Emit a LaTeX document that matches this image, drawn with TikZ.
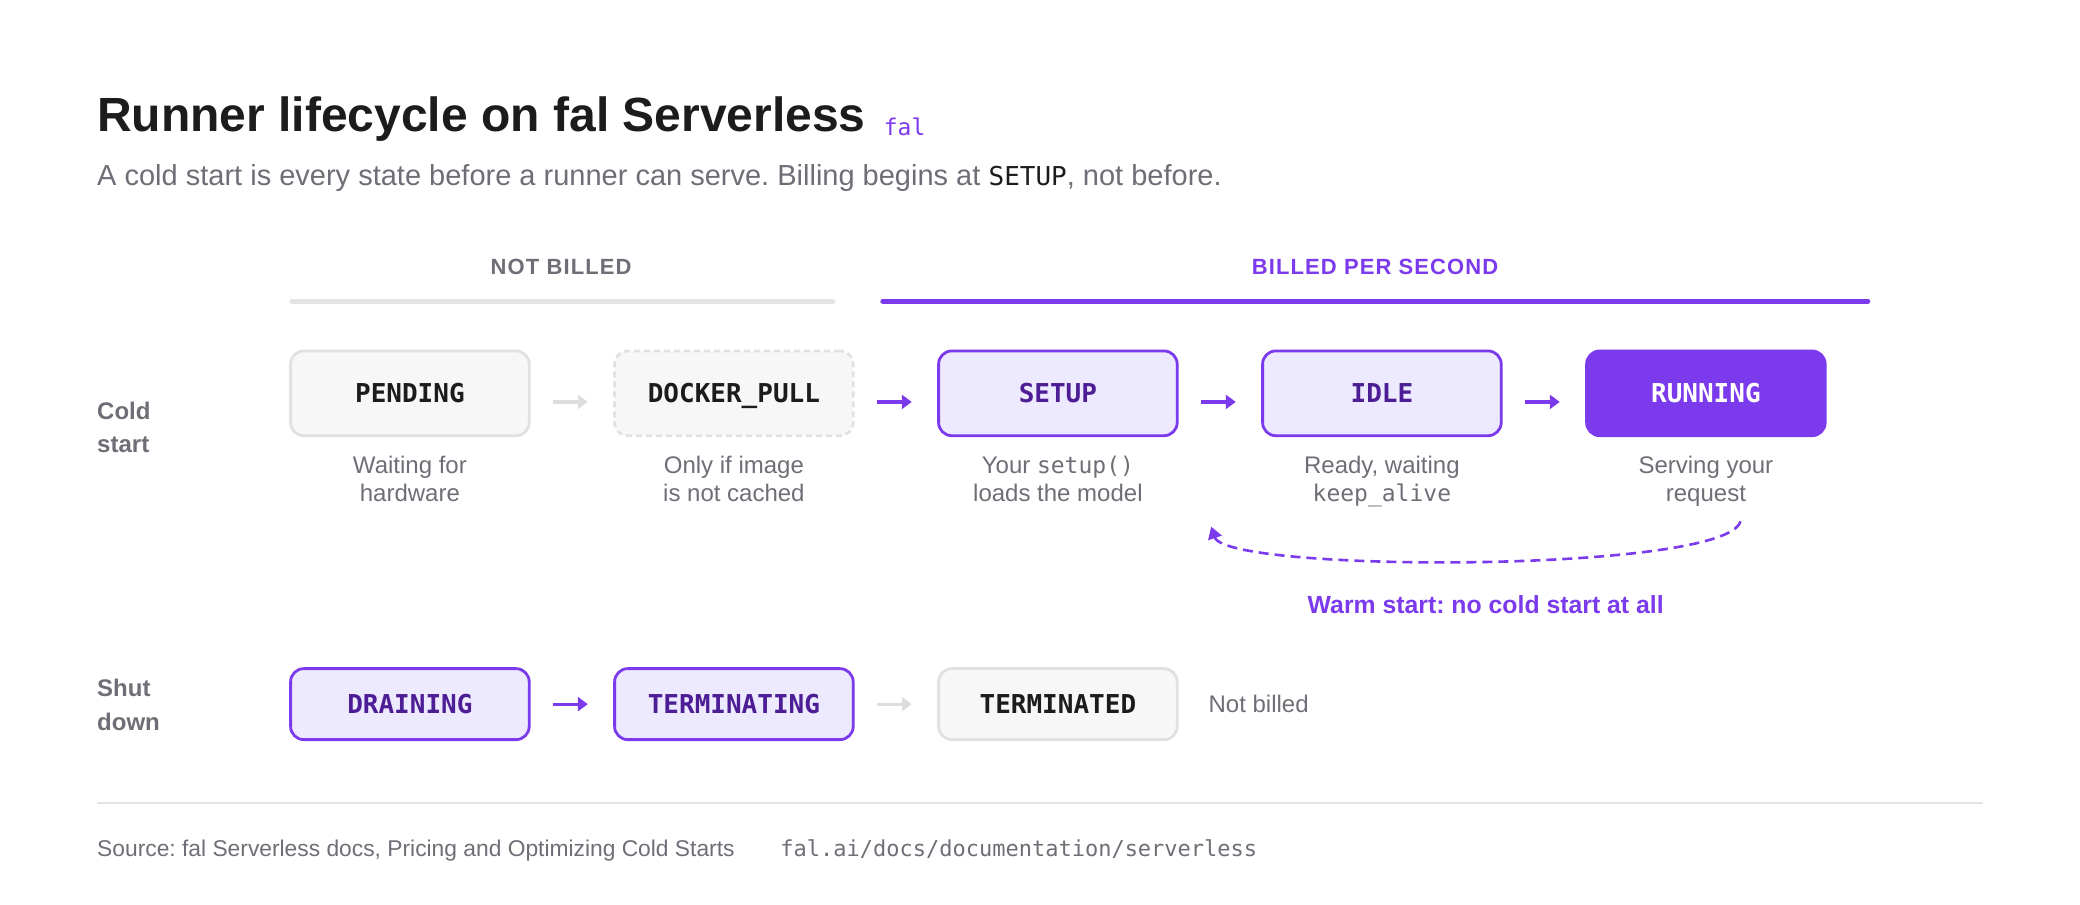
\documentclass[tikz,border=0pt]{standalone}
\usepackage{fontspec}
\setmainfont{Liberation Sans}
\setmonofont{DejaVu Sans Mono}
\newfontfamily\capsfont[LetterSpace=5]{Liberation Sans}
\usetikzlibrary{arrows.meta,positioning}
\frenchspacing

\definecolor{falpurple}{HTML}{7C3AED}
\definecolor{falplum}{HTML}{4C1D95}
\definecolor{paleviolet}{HTML}{EDE9FE}
\definecolor{ink}{HTML}{1C1C1E}
\definecolor{inkgrey}{HTML}{6E6E76}
\definecolor{boxfill}{HTML}{F7F7F8}
\definecolor{boxline}{HTML}{E1E1E4}
\definecolor{barline}{HTML}{E4E4E7}
\definecolor{arrowgrey}{HTML}{DDDDE0}

\tikzstyle{state} = [rectangle, rounded corners=6.6pt, minimum width=119.3pt, minimum height=42.4pt, line width=1.4pt, inner sep=0pt, text height=9.4pt, text depth=0pt, font=\ttfamily\bfseries\fontsize{13}{15}\selectfont]
\tikzstyle{plainstate} = [state, draw=boxline, fill=boxfill, text=ink]
\tikzstyle{maybestate} = [plainstate, dash pattern=on 3pt off 2pt]
\tikzstyle{billstate} = [state, draw=falpurple, fill=paleviolet, text=falplum]
\tikzstyle{runstate} = [state, draw=falpurple, fill=falpurple, text=white]
\tikzstyle{low} = [minimum height=35.5pt]
\tikzstyle{caption} = [align=center, inner sep=0pt, text=inkgrey, font=\fontsize{12}{14}\selectfont]
\tikzstyle{rowlabel} = [anchor=north west, align=left, inner sep=0pt, text=inkgrey, font=\bfseries\fontsize{12}{16.6}\selectfont]
\tikzstyle{band} = [anchor=base, inner sep=0pt, font=\capsfont\bfseries\fontsize{11}{13}\selectfont]
\tikzstyle{billbar} = [line width=2.5pt, line cap=round]
\tikzstyle{arrow} = [line width=1.6pt, -{Triangle[length=5pt,width=7pt]}, shorten <=11pt, shorten >=12.7pt]
\tikzstyle{paidarrow} = [arrow, draw=falpurple]
\tikzstyle{freearrow} = [arrow, draw=arrowgrey]
\tikzstyle{warmarrow} = [draw=falpurple, line width=1.3pt, dash pattern=on 5pt off 3pt, -{Triangle[length=6pt,width=7pt]}]
\tikzstyle{plain} = [anchor=base west, inner sep=0pt]

\begin{document}
\begin{tikzpicture}[x=0.66327pt, y=-0.66327pt, node distance=162pt]
\useasboundingbox (0,0) rectangle (1568,681.5);

\node (title) [plain, text=ink, font=\bfseries\fontsize{24}{28}\selectfont] at (73,99.5) {Runner lifecycle on fal Serverless};
\node (brand) [plain, text=falpurple, font=\ttfamily\fontsize{11.5}{13}\selectfont] at (666,102) {fal};
\node (subtitle) [plain, text=inkgrey, font=\fontsize{14.5}{17}\selectfont] at (73,139.5) {A cold start is every state before a runner can serve. Billing begins at {\ttfamily\color{ink}\fontsize{13}{17}\selectfont SETUP}, not before.};

\node (freehead) [band, text=inkgrey] at (423,207.3) {NOT BILLED};
\node (paidhead) [band, text=falpurple] at (1036.6,207.3) {BILLED PER SECOND};
\draw [billbar, draw=barline] (220,227) -- (628,227);
\draw [billbar, draw=falpurple] (665.5,227) -- (1408,227);

\node (coldlabel) [rowlabel] at (73,302.5) {Cold\\start};
\node (pending) [plainstate] at (309,296.5) {PENDING};
\node (dockerpull) [maybestate, right of=pending] {DOCKER\_PULL};
\node (setup) [billstate, right of=dockerpull] {SETUP};
\node (idle) [billstate, right of=setup] {IDLE};
\node (running) [runstate, right of=idle] {RUNNING};

\node (pendingcap) [caption, below=9.3pt of pending] {Waiting for\\hardware};
\node (dockercap) [caption, below=9.3pt of dockerpull] {Only if image\\is not cached};
\node (setupcap) [caption, below=9.3pt of setup] {Your {\ttfamily\fontsize{11.5}{14}\selectfont setup()}\\loads the model};
\node (idlecap) [caption, below=9.3pt of idle] {Ready, waiting\\{\ttfamily\fontsize{11.5}{14}\selectfont keep\_alive}};
\node (runningcap) [caption, below=9.3pt of running] {Serving your\\request};

\draw [freearrow] ([yshift=-4.3pt]pending.east) -- ([yshift=-4.3pt]dockerpull.west);
\draw [paidarrow] ([yshift=-4.3pt]dockerpull.east) -- ([yshift=-4.3pt]setup.west);
\draw [paidarrow] ([yshift=-4.3pt]setup.east) -- ([yshift=-4.3pt]idle.west);
\draw [paidarrow] ([yshift=-4.3pt]idle.east) -- ([yshift=-4.3pt]running.west);

\coordinate (warmfrom) at (1312,393);
\coordinate (warmto) at (913,397);
\draw [warmarrow] (warmfrom) .. controls (1302,432) and (925,432) .. (warmto);
\node (warmnote) [anchor=base, inner sep=0pt, text=falpurple, font=\bfseries\fontsize{12.4}{14}\selectfont] at (1120,462.4) {Warm start: no cold start at all};

\node (shutlabel) [rowlabel] at (73,512) {Shut\\down};
\node (draining) [billstate, low] at (309,530.8) {DRAINING};
\node (terminating) [billstate, low, right of=draining] {TERMINATING};
\node (terminated) [plainstate, low, right of=terminating] {TERMINATED};
\node (notbilled) [caption, right=14.8pt of terminated] {Not billed};

\draw [paidarrow] (draining) -- (terminating);
\draw [freearrow] (terminating) -- (terminated);

\draw [draw=barline, line width=1pt] (73,605) -- (1495,605);
\node (source) [plain, text=inkgrey, font=\fontsize{11.4}{13}\selectfont] at (73,645.3) {Source: fal Serverless docs, Pricing and Optimizing Cold Starts};
\node (sourcelink) [plain, text=inkgrey, font=\ttfamily\fontsize{11}{13}\selectfont] at (588,645.3) {fal.ai/docs/documentation/serverless};

\end{tikzpicture}
\end{document}
